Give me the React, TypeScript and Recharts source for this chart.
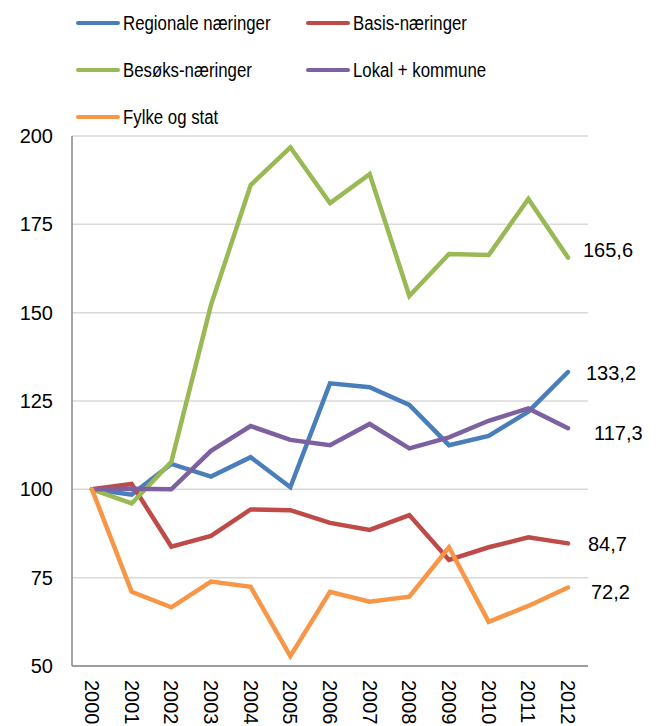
import React from 'react'
import { CartesianGrid, LabelList, Line, LineChart, XAxis, YAxis } from 'recharts'

const years = ['2000', '2001', '2002', '2003', '2004', '2005', '2006', '2007', '2008', '2009', '2010', '2011', '2012']

const regionale = [100, 98.5, 107.2, 103.6, 109.1, 100.6, 130.0, 128.9, 123.9, 112.5, 115.1, 122.0, 133.2]
const basis = [100, 101.5, 83.8, 86.8, 94.3, 94.1, 90.5, 88.5, 92.7, 80.0, 83.6, 86.4, 84.7]
const besoks = [100, 96.0, 107.8, 152.2, 186.1, 196.8, 181.0, 189.2, 154.7, 166.6, 166.3, 182.2, 165.6]
const lokal = [100, 100.2, 100.0, 110.9, 117.9, 114.0, 112.5, 118.5, 111.6, 114.7, 119.4, 122.9, 117.3]
const fylke = [100, 71.0, 66.6, 73.9, 72.4, 52.8, 71.0, 68.2, 69.6, 83.6, 62.5, 67.0, 72.2]

const yTicks = [50, 75, 100, 125, 150, 175, 200]

const data = years.map((year, i) => ({
  year,
  regionale: regionale[i],
  basis: basis[i],
  besoks: besoks[i],
  lokal: lokal[i],
  fylke: fylke[i],
}))

const series = [
  { key: 'regionale', name: 'Regionale næringer', color: '#4A7EBB', dx: 18, dy: 1 },
  { key: 'basis', name: 'Basis-næringer', color: '#BE4B48', dx: 20, dy: 1 },
  { key: 'besoks', name: 'Besøks-næringer', color: '#98B954', dx: 15, dy: -8 },
  { key: 'lokal', name: 'Lokal + kommune', color: '#7D60A0', dx: 26, dy: 5 },
  { key: 'fylke', name: 'Fylke og stat', color: '#F79646', dx: 23, dy: 4 },
]

// legend slots: [left of line, row center]
const legendPos = [
  [68, 15],
  [298, 15],
  [68, 62],
  [298, 62],
  [68, 109],
]

const font = "'Liberation Sans', Arial, sans-serif"

const YearTick = (props: any) => {
  const { x, y, payload } = props
  const ty = y + 6
  return (
    <text
      x={x}
      y={ty}
      transform={`rotate(90 ${x} ${ty})`}
      textAnchor="start"
      dominantBaseline="central"
      fontSize={20}
      fontFamily={font}
      fill="#000"
    >
      {payload.value}
    </text>
  )
}

const endLabel = (last: number, dx: number, dy: number) => (props: any) => {
  const { x, y, value, index } = props
  if (index !== last) return null
  return (
    <text x={x + dx} y={y + dy} dominantBaseline="central" fontSize={20} fontFamily={font} fill="#000">
      {String(value).replace('.', ',')}
    </text>
  )
}

const App = () => {
  return (
    <div style={{ position: 'relative', width: 651, height: 718 }}>
      {series.map((s, i) => (
        <div
          key={s.key}
          style={{
            position: 'absolute',
            left: legendPos[i][0],
            top: legendPos[i][1] - 12,
            height: 24,
            display: 'flex',
            alignItems: 'center',
            whiteSpace: 'nowrap',
          }}
        >
          <span style={{ width: 44, height: 4.5, background: s.color, borderRadius: 3, display: 'inline-block' }} />
          <span
            style={{
              marginLeft: 3,
              fontSize: 20,
              fontFamily: font,
              color: '#000',
              display: 'inline-block',
              transform: 'scaleX(0.84)',
              transformOrigin: 'left center',
            }}
          >
            {s.name}
          </span>
        </div>
      ))}
      <LineChart width={651} height={718} data={data} margin={{ top: 128, right: 71, bottom: 0, left: 4 }}>
        <CartesianGrid vertical={false} stroke="#D9D9D9" strokeWidth={1.5} />
        <XAxis
          dataKey="year"
          interval={0}
          height={60}
          padding={{ left: 20, right: 20 }}
          tickLine={false}
          axisLine={{ stroke: '#868686', strokeWidth: 1.5 }}
          tick={<YearTick />}
        />
        <YAxis
          width={60}
          domain={[50, 200]}
          ticks={yTicks}
          tickLine={false}
          tickMargin={13}
          axisLine={{ stroke: '#868686', strokeWidth: 1.5 }}
          tick={{ fontSize: 20, fontFamily: font, fill: '#000' }}
        />
        {series.map((s) => (
          <Line
            key={s.key}
            dataKey={s.key}
            name={s.name}
            stroke={s.color}
            strokeWidth={4.5}
            strokeLinecap="round"
            dot={false}
            activeDot={false}
            isAnimationActive={false}
          >
            <LabelList dataKey={s.key} content={endLabel(years.length - 1, s.dx, s.dy)} />
          </Line>
        ))}
      </LineChart>
    </div>
  )
}

export default App
